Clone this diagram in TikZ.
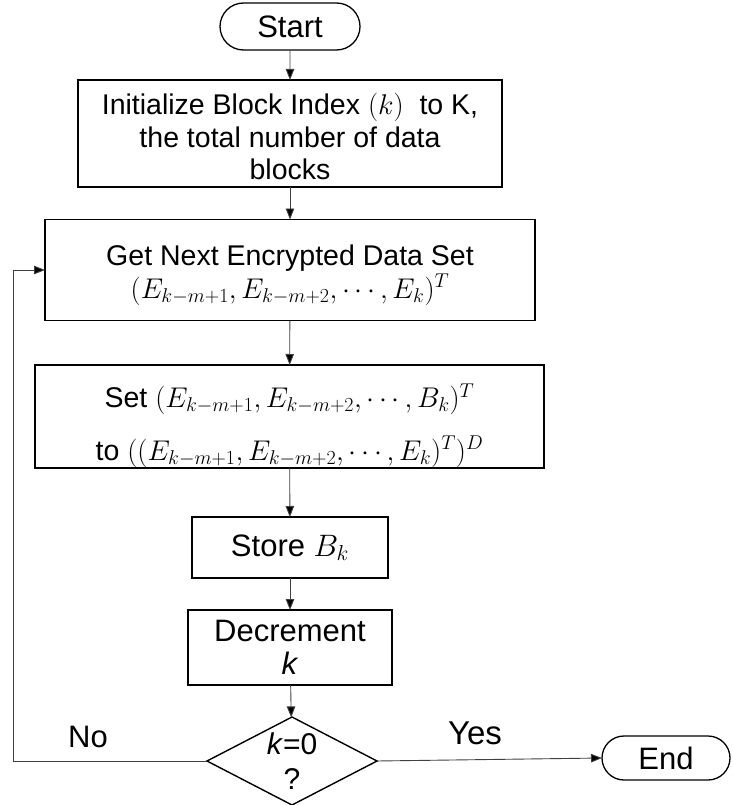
\RequirePackage{fix-cm}
\documentclass[tikz,border=0pt]{standalone}
\usepackage{fontspec}
\setmainfont{Liberation Sans}
\usetikzlibrary{shapes.misc,shapes.geometric,arrows.meta}

\begin{document}
\begin{tikzpicture}[x=1pt,y=-1pt,
  every node/.style={inner sep=0pt, outer sep=0pt, align=center},
  bodytext/.style={font=\fontsize{28.5}{32.5}\selectfont},
  largetext/.style={font=\fontsize{31}{33}\selectfont},
  procbox/.style={draw=black, line width=1.6pt, rectangle},
  termbox/.style={draw=black, line width=1.3pt, rounded rectangle, font=\fontsize{31}{34}\selectfont},
  decbox/.style={draw=black, line width=1.4pt, diamond},
  flow/.style={draw=black!75, line width=0.9pt, -{Triangle[length=11pt,width=8.5pt,fill=black]}},
]
\useasboundingbox (0,0) rectangle (732,805);

% terminals
\node[termbox, minimum width=140pt, minimum height=47pt] (start) at (290,26.5) {Start};
\node[termbox, minimum width=128pt, minimum height=44pt] (end) at (666,758) {End};

% process steps: frames, with their texts set on top
\node[procbox, minimum width=424pt, minimum height=107pt] (init) at (290,133.5) {};
\node[bodytext] (inittext) at ([yshift=-3pt]init.center)
  {Initialize Block Index $(k)$\ \ to K,\\the total number of data\\blocks};

\node[procbox, minimum width=490pt, minimum height=101pt] (get) at (290,270) {};
\node[bodytext] (gettext) at ([yshift=-5pt]get.center)
  {Get Next Encrypted Data Set\\$(E_{k-m+1},E_{k-m+2},\cdots,E_k)^T$};

\node[procbox, minimum width=509pt, minimum height=103pt] (set) at (289.5,416.5) {};
\node[bodytext] (settext) at ([yshift=-9pt]set.center)
  {Set $(E_{k-m+1},E_{k-m+2},\cdots,B_k)^T$\\[20pt]to $((E_{k-m+1},E_{k-m+2},\cdots,E_k)^T)^D$};

\node[procbox, largetext, minimum width=196pt, minimum height=61pt] (store) at (290,547.5)
  {Store $B_k$};
\node[procbox, largetext, minimum width=204pt, minimum height=75pt] (dec) at (290,647.5)
  {Decrement\\\textit{k}};

% decision
\node[decbox, minimum width=170pt, minimum height=88pt] (test) at (292,761) {};
\node[font=\fontsize{30}{35}\selectfont] (testtext) at (test) {\textit{k}=0\\?};

% branch labels
\node[font=\fontsize{31}{34}\selectfont] (no) at (88,737) {No};
\node[font=\fontsize{33}{36}\selectfont] (yes) at (475,733) {Yes};

% connectors
\draw[flow] (start) -- (init);
\draw[flow] (init) -- (get);
\draw[flow] (get) -- (set);
\draw[flow] (set) -- (store);
\draw[flow] (store) -- (dec);
\draw[flow] (dec) -- (test);
\draw[flow] (test.east) -- (end.west);
\coordinate (loop) at (13,761);
\draw[flow] (test.west) -- (loop) |- (get.west);
\end{tikzpicture}
\end{document}
